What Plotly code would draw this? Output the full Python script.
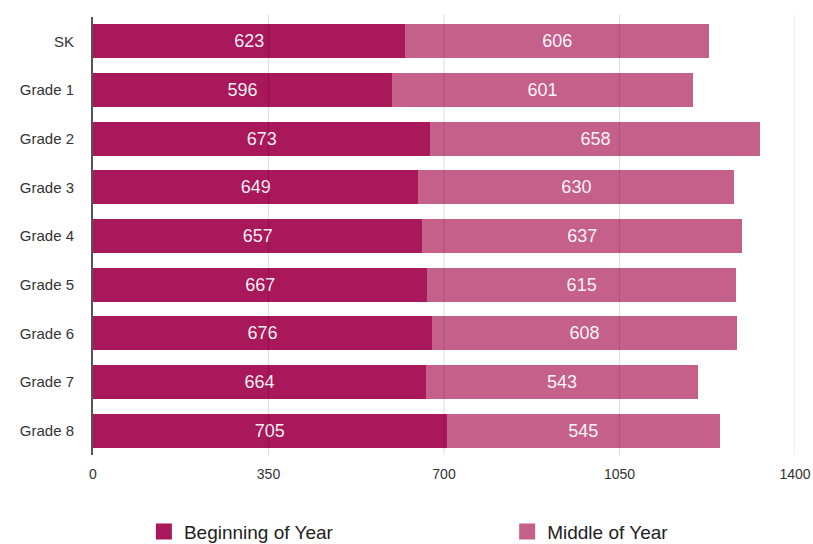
import plotly.graph_objects as go

# Enrollment counts per grade, two assessment windows
grades = ["SK", "Grade 1", "Grade 2", "Grade 3", "Grade 4",
          "Grade 5", "Grade 6", "Grade 7", "Grade 8"]
beginning_of_year = [623, 596, 673, 649, 657, 667, 676, 664, 705]
middle_of_year = [606, 601, 658, 630, 637, 615, 608, 543, 545]
x_ticks = [0, 350, 700, 1050, 1400]

DARK = "#A8185A"
LIGHT = "#C5608A"
FONT = "Liberation Sans, Arial, Helvetica, sans-serif"

series = [("Beginning of Year", beginning_of_year, DARK, "legend"),
          ("Middle of Year", middle_of_year, LIGHT, "legend2")]

fig = go.Figure()

for name, vals, col, _ in series:
    fig.add_trace(go.Bar(
        y=grades, x=vals, orientation="h", name=name,
        marker=dict(color=col, line=dict(width=0)),
        width=0.7,
        text=vals, texttemplate="%{text}",
        textposition="inside", insidetextanchor="middle",
        textfont=dict(color="rgba(255,255,255,0.95)", size=18, family=FONT),
        showlegend=False, hoverinfo="skip",
    ))

# Legend entries with square swatches, one legend box per series
for name, _, col, lg in series:
    fig.add_trace(go.Scatter(
        x=[None], y=[None], mode="markers", name=name, legend=lg,
        marker=dict(symbol="square", size=16, color=col),
    ))

# Vertical gridlines drawn over the bars
for t in x_ticks[1:]:
    fig.add_shape(type="line", xref="x", yref="paper", x0=t, x1=t,
                  y0=0, y1=1.005, layer="above",
                  line=dict(color="rgba(0,0,0,0.12)", width=1.2))

legend_style = dict(
    orientation="h", xanchor="left", y=-0.175, yanchor="middle",
    font=dict(size=19, color="#222222", family=FONT),
    bgcolor="rgba(0,0,0,0)",
)

fig.update_layout(
    width=813, height=544,
    margin=dict(l=93, r=18, t=17, b=89, autoexpand=False),
    barmode="stack",
    plot_bgcolor="white", paper_bgcolor="white",
    font=dict(family=FONT, color="#333333"),
    showlegend=True,
    legend=dict(x=0.0725, **legend_style),
    legend2=dict(x=0.59, **legend_style),
    xaxis=dict(
        range=[0, 1400], tickvals=x_ticks, ticktext=[str(t) for t in x_ticks],
        showgrid=False, zeroline=False, showline=False,
        ticks="outside", ticklen=6, tickcolor="rgba(0,0,0,0)",
        tickfont=dict(size=14, color="#333333"),
    ),
    yaxis=dict(
        categoryorder="array", categoryarray=grades, autorange="reversed",
        showgrid=False, zeroline=False,
        showline=True, linecolor="#555555", linewidth=2,
        ticks="outside", ticklen=14, tickcolor="rgba(0,0,0,0)",
        tickfont=dict(size=15, color="#333333"),
    ),
)

fig.write_html("out.html")
